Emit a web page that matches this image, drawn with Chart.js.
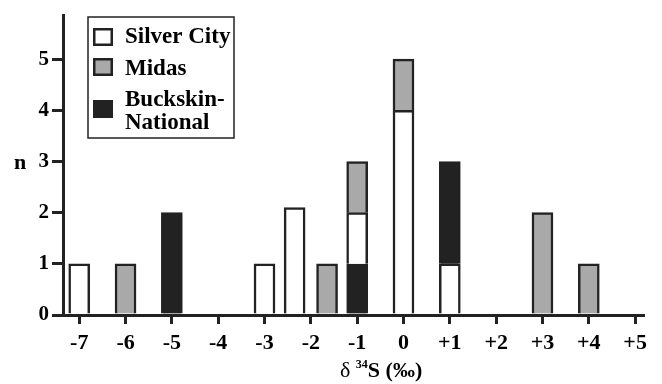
<!DOCTYPE html>
<html lang="en">
<head>
    <meta charset="UTF-8">
    <title>delta 34S histogram</title>
    <script src="https://cdn.jsdelivr.net/npm/chart.js"></script>
    <style>
        body {
            margin: 0;
            padding: 0;
            background: white;
        }

        .chart-box {
            width: 662px;
            height: 384px;
        }
    </style>
</head>
<body>

    <div class="chart-box">
        <canvas id="sulfurChart" width="662" height="384"></canvas>
    </div>

    <script>
        // bin centres (per mil) and counts per deposit
        const bins = [-7, -6, -5, -3, -2.35, -1.65, -1, 0, 1, 3, 4];
        const silverCity = [1, 0, 0, 1, 2.1, 0, 1, 4, 1, 0, 0];
        const midas = [0, 1, 0, 0, 0, 1, 1, 1, 0, 2, 1];
        const buckskin = [0, 0, 2, 0, 0, 0, 1, 0, 2, 0, 0];
        // bottom-to-top order of the segments in each bar (S = Silver City, M = Midas, B = Buckskin)
        const stackOrder = ['SMB', 'SMB', 'SMB', 'SMB', 'SMB', 'SMB', 'BSM', 'SMB', 'SMB', 'SMB', 'SMB'];
        const xTicks = [-7, -6, -5, -4, -3, -2, -1, 0, 1, 2, 3, 4, 5];
        const xTickLabels = ['-7', '-6', '-5', '-4', '-3', '-2', '-1', '0', '+1', '+2', '+3', '+4', '+5'];
        const seriesNames = ['Silver City', 'Midas', 'Buckskin-National'];

        const ink = '#222222';
        const serif = "'Liberation Serif', 'DejaVu Serif', serif";

        // turn counts into floating [from, to] segments following stackOrder
        const counts = { S: silverCity, M: midas, B: buckskin };
        const segments = { S: [], M: [], B: [] };
        for (let i = 0; i < bins.length; i++) {
            let base = 0;
            for (const key of stackOrder[i]) {
                const n = counts[key][i];
                if (n > 0) {
                    segments[key].push({ x: bins[i], y: [base, base + n] });
                    base += n;
                }
            }
        }

        const fills = ['#ffffff', '#a9a9a9', ink];

        // boxed legend + axis titles
        const extras = {
            id: 'extras',
            afterDraw(chart) {
                const c = chart.ctx;
                c.save();

                // legend frame
                c.strokeStyle = ink;
                c.lineWidth = 1.5;
                c.fillStyle = '#ffffff';
                c.fillRect(88, 17, 146, 121);
                c.strokeRect(88, 17, 146, 121);

                const swatchY = [28, 58, 100];
                for (let i = 0; i < 3; i++) {
                    c.fillStyle = fills[i];
                    c.fillRect(93, swatchY[i], 20, 18);
                    c.lineWidth = 2.5;
                    c.strokeStyle = ink;
                    c.strokeRect(94.25, swatchY[i] + 1.25, 17.5, 15.5);
                }

                c.fillStyle = '#000000';
                c.font = 'bold 23px ' + serif;
                c.textAlign = 'left';
                c.textBaseline = 'alphabetic';
                c.fillText('Silver City', 125, 43);
                c.fillText('Midas', 125, 75);
                c.fillText('Buckskin-', 125, 106);
                c.fillText('National', 125, 129);

                // y title
                c.textAlign = 'center';
                c.font = 'bold 22px ' + serif;
                c.fillText('n', 20, 169);

                // x title: δ ³⁴S (‰)
                c.textAlign = 'left';
                let x = 340;
                c.font = '22px ' + serif;
                c.fillText('\u03b4', x, 377);
                x += c.measureText('\u03b4 ').width;
                c.font = 'bold 12px ' + serif;
                c.fillText('34', x, 368);
                x += c.measureText('34').width;
                c.font = 'bold 22px ' + serif;
                c.fillText('S (\u2030)', x, 377);

                c.restore();
            }
        };

        new Chart(document.getElementById('sulfurChart'), {
            type: 'bar',
            data: {
                datasets: [
                    { label: seriesNames[0], data: segments.S, backgroundColor: fills[0] },
                    { label: seriesNames[1], data: segments.M, backgroundColor: fills[1] },
                    { label: seriesNames[2], data: segments.B, backgroundColor: fills[2] }
                ]
            },
            options: {
                responsive: false,
                animation: false,
                layout: { padding: { left: 0, top: 13, right: 19, bottom: 0 } },
                datasets: {
                    bar: {
                        barThickness: 21,
                        borderWidth: 2.5,
                        borderColor: ink
                    }
                },
                scales: {
                    x: {
                        type: 'linear',
                        stacked: true,
                        offset: false,
                        min: -7.35,
                        max: 5.17,
                        afterFit: (scale) => { scale.height = 69; },
                        afterBuildTicks: (scale) => { scale.ticks = xTicks.map(v => ({ value: v })); },
                        ticks: {
                            includeBounds: false,
                            autoSkip: false,
                            maxRotation: 0,
                            padding: 6,
                            color: '#000',
                            font: { family: serif, size: 22, weight: 'bold' },
                            callback: (v) => xTickLabels[xTicks.indexOf(v)]
                        },
                        grid: { drawOnChartArea: false, offset: false, tickLength: 9, color: ink, lineWidth: 3 },
                        border: { display: true, color: ink, width: 3 }
                    },
                    y: {
                        min: 0,
                        max: 5.85,
                        afterFit: (scale) => { scale.width = 63; },
                        ticks: {
                            stepSize: 1,
                            includeBounds: false,
                            padding: 3,
                            color: '#000',
                            font: { family: serif, size: 21, weight: 'bold' }
                        },
                        grid: { drawOnChartArea: false, tickLength: 11, color: ink, lineWidth: 3 },
                        border: { display: true, color: ink, width: 3 }
                    }
                },
                plugins: {
                    legend: { display: false },
                    tooltip: { enabled: false }
                }
            },
            plugins: [extras]
        });
    </script>

</body>
</html>
